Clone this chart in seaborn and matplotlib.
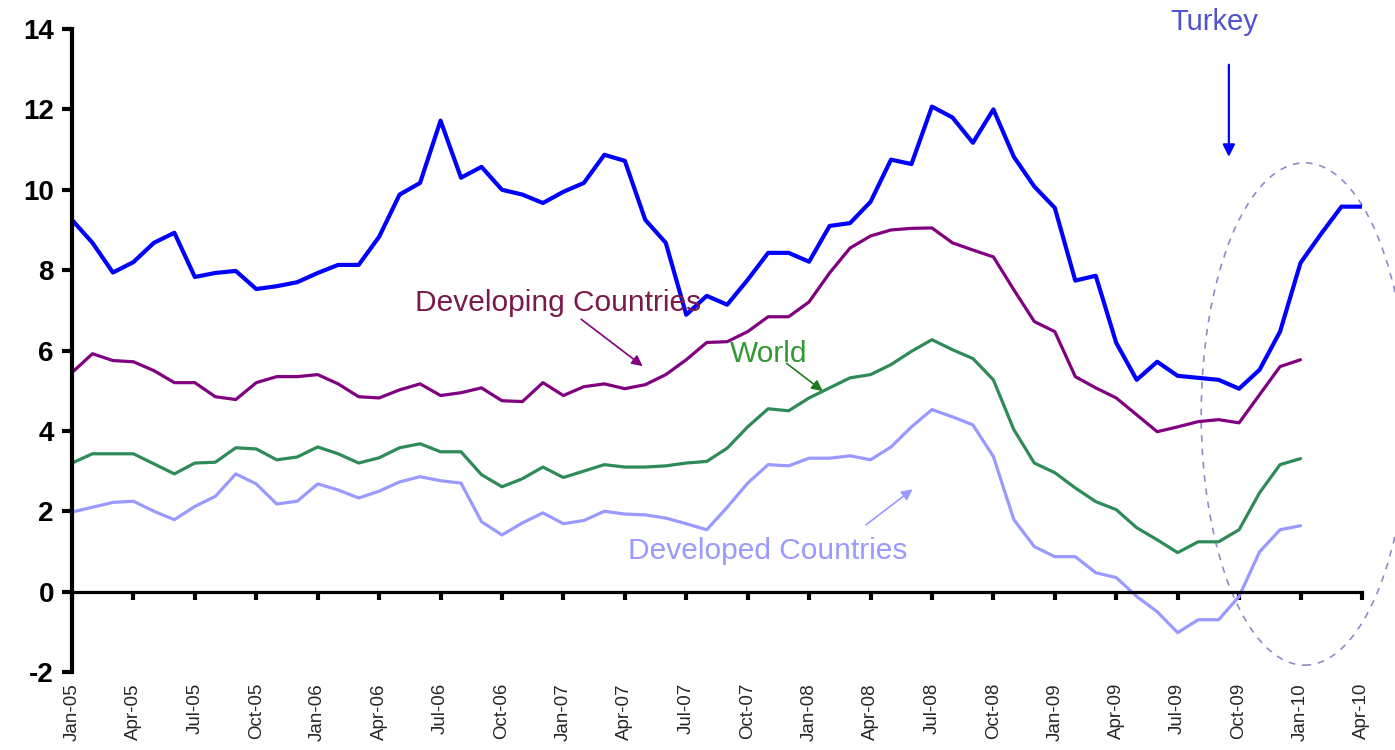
import numpy as np
import pandas as pd
import matplotlib
matplotlib.use("Agg")
import matplotlib.pyplot as plt
from matplotlib.patches import Ellipse
import seaborn as sns

# ---- data (monthly, Jan-05 .. Apr-10) ----
months = pd.date_range("2005-01-01", "2010-04-01", freq="MS").strftime("%b-%y").tolist()

turkey = [9.25, 8.68, 7.94, 8.20, 8.68, 8.93, 7.83, 7.93, 7.98, 7.53, 7.60, 7.70,
          7.93, 8.13, 8.13, 8.83, 9.88, 10.17, 11.72, 10.30, 10.57, 10.00, 9.88, 9.67,
          9.95, 10.17, 10.87, 10.72, 9.25, 8.68, 6.89, 7.36, 7.14, 7.76, 8.43, 8.43,
          8.21, 9.10, 9.17, 9.70, 10.75, 10.64, 12.07, 11.80, 11.17, 12.00, 10.82, 10.08,
          9.55, 7.74, 7.86, 6.19, 5.27, 5.72, 5.37, 5.32, 5.27, 5.05, 5.52, 6.47,
          8.18, 8.90, 9.58, 9.58]

developing = [5.45, 5.92, 5.75, 5.72, 5.50, 5.20, 5.20, 4.85, 4.78, 5.20, 5.35, 5.35,
              5.40, 5.17, 4.85, 4.82, 5.02, 5.17, 4.88, 4.95, 5.07, 4.75, 4.73, 5.20,
              4.88, 5.10, 5.17, 5.05, 5.15, 5.40, 5.77, 6.20, 6.22, 6.47, 6.84, 6.84,
              7.21, 7.93, 8.55, 8.85, 9.00, 9.04, 9.05, 8.68, 8.50, 8.33, 7.51, 6.72,
              6.47, 5.35, 5.07, 4.82, 4.40, 3.98, 4.10, 4.23, 4.28, 4.20, 4.90, 5.60,
              5.77]

world = [3.20, 3.43, 3.43, 3.43, 3.18, 2.93, 3.20, 3.22, 3.58, 3.55, 3.28, 3.35,
         3.60, 3.43, 3.20, 3.33, 3.58, 3.68, 3.48, 3.48, 2.91, 2.61, 2.81, 3.10,
         2.84, 3.00, 3.16, 3.10, 3.10, 3.13, 3.20, 3.24, 3.57, 4.10, 4.55, 4.50,
         4.82, 5.07, 5.32, 5.40, 5.65, 5.98, 6.27, 6.02, 5.80, 5.27, 4.03, 3.20,
         2.96, 2.58, 2.24, 2.04, 1.59, 1.29, 0.97, 1.24, 1.24, 1.54, 2.46, 3.16,
         3.31]

developed = [1.98, 2.10, 2.22, 2.25, 2.00, 1.79, 2.12, 2.37, 2.93, 2.68, 2.18, 2.25,
             2.68, 2.53, 2.33, 2.50, 2.73, 2.86, 2.76, 2.70, 1.74, 1.41, 1.71, 1.96,
             1.69, 1.77, 2.00, 1.93, 1.91, 1.83, 1.69, 1.54, 2.10, 2.70, 3.16, 3.13,
             3.32, 3.32, 3.38, 3.28, 3.60, 4.10, 4.53, 4.35, 4.15, 3.36, 1.79, 1.12,
             0.87, 0.87, 0.47, 0.35, -0.12, -0.50, -1.02, -0.70, -0.70, -0.12, 0.99, 1.54,
             1.64]

series_names = ["Turkey", "Developing Countries", "World", "Developed Countries"]
series_values = [turkey, developing, world, developed]
colors = ["#0000ff", "#800080", "#2e8b57", "#9999ff"]
widths = [3.0, 2.3, 2.3, 2.3]

tick_labels = ["Jan-05", "Apr-05", "Jul-05", "Oct-05", "Jan-06", "Apr-06", "Jul-06", "Oct-06",
               "Jan-07", "Apr-07", "Jul-07", "Oct-07", "Jan-08", "Apr-08", "Jul-08", "Oct-08",
               "Jan-09", "Apr-09", "Jul-09", "Oct-09", "Jan-10", "Apr-10"]
y_ticks = [-2, 0, 2, 4, 6, 8, 10, 12, 14]

# ---- long-form frame ----
rows = []
for name, vals in zip(series_names, series_values):
    for i, v in enumerate(vals):
        rows.append({"idx": i, "month": months[i], "value": v, "series": name})
df = pd.DataFrame(rows)

sns.set_style("white")
plt.rcParams["font.family"] = ["Liberation Sans", "DejaVu Sans"]

fig = plt.figure(figsize=(13.95, 7.5), dpi=100)
ax = fig.add_axes([0.0516, 0.104, 0.9247, 0.8573])

for name, col, lw in zip(series_names, colors, widths):
    sns.lineplot(data=df[df["series"] == name], x="idx", y="value", color=col,
                 linewidth=lw, ax=ax, legend=False, sort=True)

ax.set_xlim(0, len(months) - 1)
ax.set_ylim(-2, 14)
ax.set_xlabel("")
ax.set_ylabel("")

# spines
for s in ["top", "right"]:
    ax.spines[s].set_visible(False)
ax.spines["left"].set_linewidth(3)
ax.spines["left"].set_color("black")
ax.spines["bottom"].set_position(("data", 0))
ax.spines["bottom"].set_linewidth(2.3)
ax.spines["bottom"].set_color("black")

ax.set_yticks(y_ticks)
ax.set_yticklabels([str(t) for t in y_ticks], fontsize=20, fontweight="bold")
ax.tick_params(axis="y", left=True, direction="out", length=7, width=3, pad=6,
               colors="black")

tick_pos = [months.index(t) for t in tick_labels]
ax.set_xticks(tick_pos)
ax.tick_params(axis="x", bottom=True, direction="out", length=6, width=3,
               labelbottom=False, colors="black")

sec = ax.secondary_xaxis(-0.0)
sec.set_xticks(tick_pos)
sec.set_xticklabels(tick_labels, rotation=90, fontsize=13.5)
sec.tick_params(axis="x", length=0, pad=8)
sec.spines["bottom"].set_visible(False)

# ---- annotations ----
ax.text(55.8, 14.18, "Turkey", color="#5050d0", fontsize=21, ha="center", va="center",
        clip_on=False)
ax.annotate("", xy=(56.5, 10.75), xytext=(56.5, 13.18),
            arrowprops=dict(arrowstyle="-|>", color="#0000ff", lw=1.6, mutation_scale=18),
            annotation_clip=False)

ax.text(16.75, 7.19, "Developing Countries", color="#7a1a4a", fontsize=21.5, ha="left",
        va="center")
ax.annotate("", xy=(27.98, 5.57), xytext=(24.76, 6.82),
            arrowprops=dict(arrowstyle="-|>", color="#800080", lw=1.2, mutation_scale=16))

ax.text(32.13, 5.92, "World", color="#339933", fontsize=21.5, ha="left", va="center")
ax.annotate("", xy=(36.77, 4.95), xytext=(34.8, 5.72),
            arrowprops=dict(arrowstyle="-|>", color="#1f7a1f", lw=1.2, mutation_scale=16))

ax.text(27.15, 1.0, "Developed Countries", color="#9999ff", fontsize=21.5, ha="left",
        va="center")
ax.annotate("", xy=(41.16, 2.59), xytext=(38.67, 1.62),
            arrowprops=dict(arrowstyle="-|>", color="#9999ff", lw=1.2, mutation_scale=16))

ell = Ellipse((60.2, 4.42), width=10.1, height=12.5, fill=False, edgecolor="#8c8cc8",
              linestyle=(0, (4, 4)), linewidth=1.2, clip_on=False)
ax.add_patch(ell)

fig.savefig("out.png", dpi=100)
